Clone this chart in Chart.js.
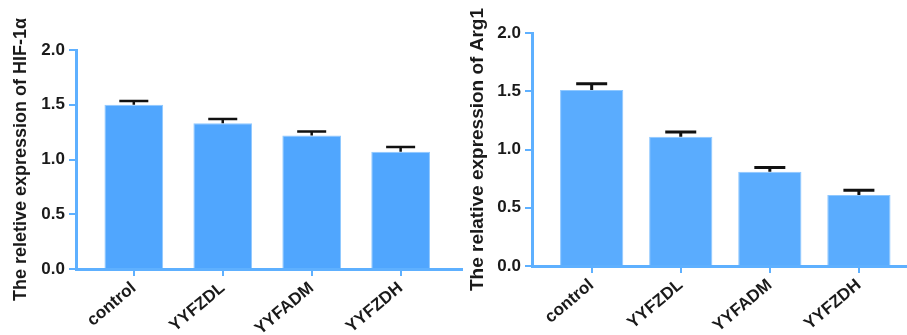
<!DOCTYPE html>
<html>
<head>
<meta charset="utf-8">
<script src="https://cdn.jsdelivr.net/npm/chart.js@4.4.1/dist/chart.umd.min.js"></script>
<style>
  html, body { margin: 0; padding: 0; background: #fff; }
  #wrap { position: relative; width: 907px; height: 335px; overflow: hidden; }
  #leftBox { position: absolute; left: 0; top: 0; }
  #rightBox { position: absolute; left: 462px; top: 0; }
</style>
</head>
<body>
<div id="wrap">
  <div id="leftBox"><canvas id="hifChart" width="465" height="335"></canvas></div>
  <div id="rightBox"><canvas id="argChart" width="445" height="335"></canvas></div>
</div>
<script>
// data
const categories = ['control', 'YYFZDL', 'YYFADM', 'YYFZDH'];
const hifValues = [1.50, 1.33, 1.22, 1.07];
const hifErrors = [0.035, 0.04, 0.035, 0.045];
const argValues = [1.51, 1.11, 0.81, 0.61];
const argErrors = [0.055, 0.04, 0.035, 0.04];
const yTicks = [0, 0.5, 1.0, 1.5, 2.0];

const FONT = '"Liberation Sans", Arial, sans-serif';
const AXIS_BLUE = '#5eb0ff';

// error bars (upper half + cap) drawn from the scales
const errorBars = {
    id: 'errorBars',
    afterDatasetsDraw(chart, args, opts) {
        const ctx = chart.ctx;
        const meta = chart.getDatasetMeta(0);
        const ys = chart.scales.y;
        ctx.save();
        ctx.strokeStyle = '#111';
        ctx.lineWidth = opts.lineWidth;
        meta.data.forEach((bar, i) => {
            const v = chart.data.datasets[0].data[i].y;
            const top = ys.getPixelForValue(v + opts.errors[i]);
            const base = ys.getPixelForValue(v);
            ctx.beginPath();
            ctx.moveTo(bar.x, base);
            ctx.lineTo(bar.x, top);
            ctx.moveTo(bar.x - opts.cap / 2, top);
            ctx.lineTo(bar.x + opts.cap / 2, top);
            ctx.stroke();
        });
        ctx.restore();
    }
};

function makeChart(id, values, errors, cfg) {
    const ctx = document.getElementById(id).getContext('2d');
    return new Chart(ctx, {
        type: 'bar',
        data: {
            datasets: [{
                data: values.map((v, i) => ({ x: i, y: v })),
                backgroundColor: cfg.barColor,
                borderColor: '#8fc8ff',
                borderWidth: 1,
                categoryPercentage: 1,
                barPercentage: cfg.barPct
            }]
        },
        options: {
            responsive: false,
            devicePixelRatio: 1,
            animation: false,
            layout: { padding: cfg.padding },
            plugins: {
                legend: { display: false },
                tooltip: { enabled: false },
                errorBars: { errors: errors, cap: cfg.cap, lineWidth: cfg.errWidth }
            },
            scales: {
                x: {
                    type: 'linear',
                    offset: false,
                    min: cfg.xMin,
                    max: cfg.xMax,
                    afterBuildTicks: (scale) => {
                        scale.ticks = categories.map((c, i) => ({ value: i }));
                    },
                    afterFit: (scale) => { scale.height = cfg.xHeight; },
                    border: { color: AXIS_BLUE, width: 3 },
                    grid: { offset: false, drawOnChartArea: false, color: AXIS_BLUE, lineWidth: 2, tickLength: 7 },
                    ticks: {
                        autoSkip: false,
                        minRotation: 40,
                        maxRotation: 40,
                        padding: 2,
                        color: '#1a1a1a',
                        font: { family: FONT, size: 17, weight: 'bold' },
                        callback: (v) => categories[v]
                    }
                },
                y: {
                    min: 0,
                    max: 2,
                    afterBuildTicks: (scale) => {
                        scale.ticks = yTicks.map(v => ({ value: v }));
                    },
                    afterFit: (scale) => { scale.width = cfg.yWidth; },
                    border: { color: AXIS_BLUE, width: 3 },
                    grid: { drawOnChartArea: false, color: AXIS_BLUE, lineWidth: 2, tickLength: 7 },
                    ticks: {
                        padding: 4,
                        color: '#1a1a1a',
                        font: { family: FONT, size: 17, weight: 'bold' },
                        callback: (v) => v.toFixed(1)
                    },
                    title: {
                        display: true,
                        text: cfg.title,
                        color: '#1a1a1a',
                        padding: { top: cfg.titlePad, bottom: 0 },
                        font: { family: FONT, size: cfg.titleSize, weight: 'bold' }
                    }
                }
            }
        },
        plugins: [errorBars]
    });
}

makeChart('hifChart', hifValues, hifErrors, {
    title: 'The reletive expression of HIF-1\u03b1',
    titleSize: 18, titlePad: 10,
    barColor: '#50a6fe', barPct: 0.66,
    xMin: -0.65, xMax: 3.69,
    padding: { top: 50, right: 3, left: 0, bottom: 0 },
    xHeight: 66, yWidth: 76,
    cap: 29, errWidth: 2.5
});

makeChart('argChart', argValues, argErrors, {
    title: 'The relative expression of Arg1',
    titleSize: 19, titlePad: 4,
    barColor: '#5aacfe', barPct: 0.71,
    xMin: -0.67, xMax: 3.54,
    padding: { top: 33, right: 0, left: 0, bottom: 0 },
    xHeight: 69, yWidth: 70,
    cap: 31, errWidth: 3
});
</script>
</body>
</html>
